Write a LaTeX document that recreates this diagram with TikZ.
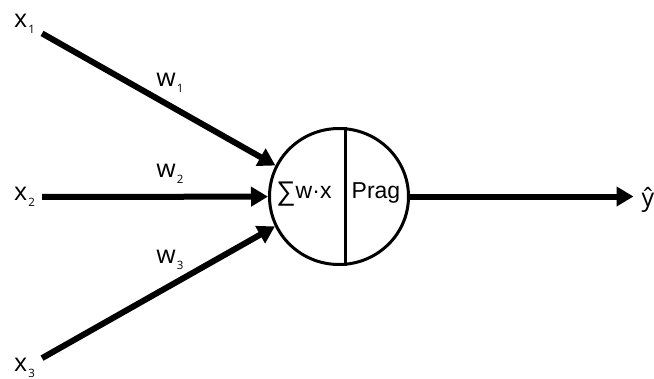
\documentclass[tikz,border=0pt]{standalone}
\usepackage{fontspec}
\setmainfont{Open Sans}
\newfontfamily\arialfont{Liberation Sans}
\usetikzlibrary{arrows.meta,shapes.geometric}
\newcommand{\subl}[2]{#1\hspace{1pt}\raisebox{-0.45ex}{\fontsize{11.5}{12}\selectfont #2}}

\begin{document}
\begin{tikzpicture}[x=1pt, y=-1pt,
                every node/.style={inner sep=2pt, font=\fontsize{25}{27}\selectfont},
                input/.style={inner sep=7pt},
                edge_style/.style={draw=black, line width=6pt, -{Triangle[length=17pt,width=19pt]}},
                neuron/.style={ellipse, draw, line width=3pt, minimum width=139pt, minimum height=136pt, inner sep=0pt},
                inside/.style={font=\arialfont\fontsize{23}{25}\selectfont}]
                \useasboundingbox (0,0) rectangle (654,378);
                \node[input] (x1) at (24.5,23.5) {\subl{x}{1}};
                \node[input] (x2) at (24.5,197) {\subl{x}{2}};
                \node[input] (x3) at (24.5,368) {\subl{x}{3}};
                \node (w1) at (170,83) {\subl{w}{1}};
                \node (w2) at (170,174) {\subl{w}{2}};
                \node (w3) at (170,259.5) {\subl{w}{3}};
                \node[neuron] (n) at (339,196.5) {};
                \node[inside] (sum) at (304,194) {\raisebox{-2pt}{\fontsize{27}{27}\selectfont ∑}w·x};
                \node[inside] (act) at (376,193) {Prag};
                \node (yhat) at (648,199.5) {ŷ};
                \draw[line width=3pt] ([xshift=6pt]n.north) -- ([xshift=6pt]n.south);
                \path (x1) edge[edge_style] (n.154);
                \path (x2) edge[edge_style] (n);
                \path (x3) edge[edge_style] (n.205);
                \path (n.east) edge[edge_style, shorten >=6pt] (yhat.west |- n.east);
            \end{tikzpicture}
\end{document}
